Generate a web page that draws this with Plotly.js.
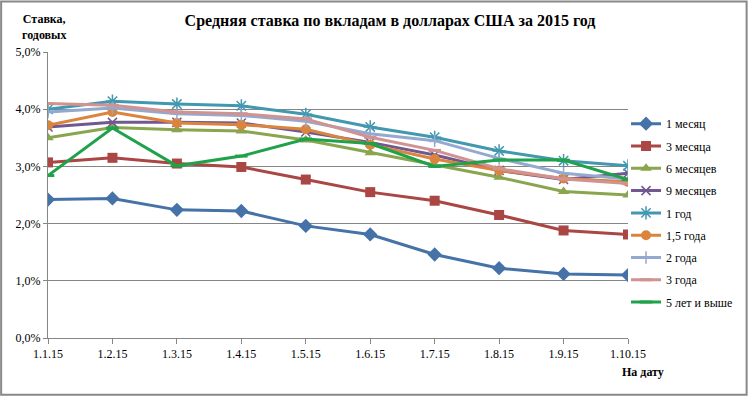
<!DOCTYPE html>
<html>
<head>
<meta charset="utf-8">
<script src="https://cdn.plot.ly/plotly-3.0.1.min.js"></script>
<style>html,body{margin:0;padding:0;background:#fff;}#chart{width:750px;height:396px;}</style>
</head>
<body>
<div id="chart"></div>
<script>
var dates = ['1.1.15','1.2.15','1.3.15','1.4.15','1.5.15','1.6.15','1.7.15','1.8.15','1.9.15','1.10.15'];
var seriesNames = ['1 месяц','3 месяца','6 месяцев','9 месяцев','1 год','1,5 года','2 года','3 года','5 лет и выше'];
var m1  = [2.42, 2.44, 2.24, 2.22, 1.96, 1.81, 1.46, 1.22, 1.12, 1.10];
var m3  = [3.07, 3.15, 3.05, 2.99, 2.77, 2.55, 2.40, 2.15, 1.88, 1.81];
var m6  = [3.50, 3.68, 3.64, 3.62, 3.46, 3.24, 3.02, 2.81, 2.56, 2.50];
var m9  = [3.69, 3.77, 3.77, 3.76, 3.60, 3.42, 3.20, 2.93, 2.77, 2.88];
var y1  = [4.00, 4.14, 4.09, 4.06, 3.91, 3.69, 3.51, 3.27, 3.10, 3.01];
var y15 = [3.72, 3.95, 3.76, 3.73, 3.65, 3.38, 3.13, 2.93, 2.79, 2.73];
var y2  = [3.95, 4.02, 3.92, 3.89, 3.79, 3.57, 3.45, 3.14, 2.88, 2.78];
var y3  = [4.10, 4.07, 3.95, 3.92, 3.83, 3.51, 3.28, 2.96, 2.78, 2.70];
var y5  = [2.84, 3.67, 3.01, 3.18, 3.48, 3.40, 3.00, 3.11, 3.11, 2.77];
var yTickVals = [0, 1, 2, 3, 4, 5];
var yTickText = ['0,0%', '1,0%', '2,0%', '3,0%', '4,0%', '5,0%'];

var values = [m1, m3, m6, m9, y1, y15, y2, y3, y5];
var colors = ['#4572A7','#AA4643','#89A54E','#71588F','#4198AF','#DB843D','#93A9CF','#D19392','#1FA24A'];
var markers = [
  {symbol:'diamond', size:11},
  {symbol:'square', size:10},
  {symbol:'triangle-up', size:10},
  {symbol:'x-thin-open', size:9, line:{width:1.5}},
  {symbol:'asterisk-open', size:11, line:{width:1.5}},
  {symbol:'circle', size:10},
  {symbol:'cross-thin-open', size:9, line:{width:1.5}},
  {symbol:'line-ew-open', size:9, line:{width:3}},
  {symbol:'line-ew-open', size:9, line:{width:3, color:'#9BCB84'}}
];

var traces = values.map(function(v, i){
  var mk = Object.assign({color: colors[i]}, markers[i]);
  if (mk.line) { mk.line = Object.assign({color: colors[i]}, mk.line); }
  return {
    type:'scatter', mode:'lines+markers', name: seriesNames[i],
    x: dates, y: v, legendgroup: 'g'+i,
    line:{color: colors[i], width:3},
    marker: mk
  };
});

var serif = 'Times New Roman, Liberation Serif, DejaVu Serif, serif';
var layout = {
  width:750, height:396,
  margin:{l:48, r:120, t:52, b:58},
  paper_bgcolor:'#fff', plot_bgcolor:'#fff',
  font:{family:serif, size:12, color:'#000'},
  showlegend:true,
  title:{text:'<b>Средняя ставка по вкладам в долларах США за 2015 год</b>', x:0.52, xanchor:'center', y:0.948, yanchor:'middle', font:{family:serif, size:16, color:'#000'}},
  xaxis:{type:'category', range:[0, 9], showgrid:false, showline:true, linecolor:'#868686', linewidth:1,
         ticks:'outside', ticklen:5, tickcolor:'#868686', tickfont:{family:serif, size:12}, zeroline:false, fixedrange:true},
  yaxis:{range:[0, 5], tickvals:yTickVals, ticktext:yTickText, showgrid:true, gridcolor:'#868686', gridwidth:1,
         showline:true, linecolor:'#868686', ticks:'outside', ticklen:4, tickcolor:'#868686', zeroline:false,
         tickfont:{family:serif, size:12}, fixedrange:true},
  legend:{x:0.9966, xanchor:'left', y:0.80, yanchor:'top', font:{family:serif, size:12}, tracegroupgap:3.3, bgcolor:'rgba(0,0,0,0)'},
  annotations:[
    {text:'<b>Ставка,<br>годовых</b>', xref:'paper', yref:'paper', x:-0.007, y:1.086, xanchor:'center', yanchor:'middle', showarrow:false, font:{family:serif, size:12}},
    {text:'<b>На дату</b>', xref:'paper', yref:'paper', x:1.026, y:-0.118, xanchor:'center', yanchor:'middle', showarrow:false, font:{family:serif, size:12}}
  ],
  shapes:[
    {type:'rect', xref:'paper', yref:'paper', x0:-0.0808, x1:1.2045, y0:-0.1985, y1:1.1770, line:{color:'#888', width:2}}
  ]
};
Plotly.newPlot('chart', traces, layout, {displayModeBar:false, staticPlot:true});
</script>
</body>
</html>
